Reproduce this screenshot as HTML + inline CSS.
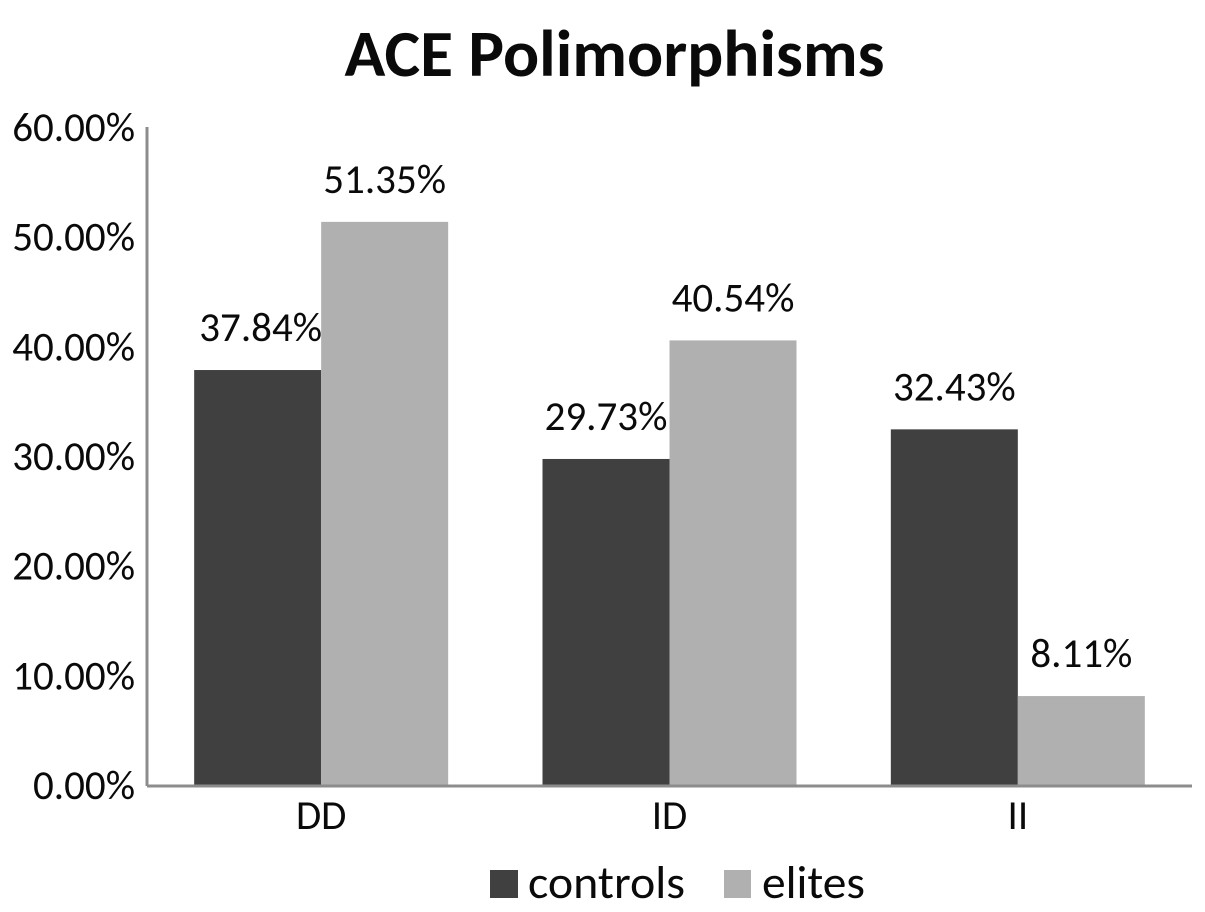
<!DOCTYPE html>
<html>
<head>
<meta charset="utf-8">
<style>
html,body{margin:0;padding:0;background:#fff;width:1205px;height:912px;overflow:hidden}
svg{display:block}
text{font-family:"Carlito","Liberation Sans",sans-serif;fill:#0a0a0a}
</style>
</head>
<body>
<svg id="chart" xmlns="http://www.w3.org/2000/svg" width="1205" height="912" viewBox="0 0 1205 912">
<text x="614.5" y="76" text-anchor="middle" font-size="66" font-weight="700" textLength="540" lengthAdjust="spacingAndGlyphs">ACE Polimorphisms</text>
<g id="plot"></g>
<g>
<rect x="490" y="870" width="28" height="28" fill="#404040"/>
<text x="528" y="898" font-size="46" textLength="157" lengthAdjust="spacingAndGlyphs">controls</text>
<rect x="724" y="870" width="27" height="28" fill="#b0b0b0"/>
<text x="762" y="898" font-size="46" textLength="103" lengthAdjust="spacingAndGlyphs">elites</text>
</g>
</svg>
<script>
const categories = ['DD', 'ID', 'II'];
const controls = [37.84, 29.73, 32.43];
const elites = [51.35, 40.54, 8.11];
const yTicks = [0, 10, 20, 30, 40, 50, 60];

const NS = 'http://www.w3.org/2000/svg';
const plot = document.getElementById('plot');
const left = 147, right = 1192, top0 = 127, bottom = 785;
const y = v => bottom - (v / 60) * (bottom - top0);
const groupW = (right - left) / categories.length;
const barW = 127;
const x = i => left + groupW * (i + 0.5);

function make(tag, attrs, text) {
  const el = document.createElementNS(NS, tag);
  for (const k in attrs) el.setAttribute(k, attrs[k]);
  if (text !== undefined) el.textContent = text;
  plot.appendChild(el);
  return el;
}

yTicks.forEach(t => {
  const label = make('text', {x: 135, y: y(t) + 14, 'text-anchor': 'end', 'font-size': 41}, t.toFixed(2) + '%');
  
  
});

categories.forEach((c, i) => {
  const cx = x(i);
  const nudge = i === 0 ? 3 : 0;
  const b1 = make('rect', {x: cx - barW, y: y(controls[i]), width: barW, height: bottom - y(controls[i]), fill: '#404040'});
  
  
  const b2 = make('rect', {x: cx, y: y(elites[i]), width: barW, height: bottom - y(elites[i]), fill: '#b0b0b0'});
  
  
  const l1 = make('text', {x: cx - barW / 2 + nudge, y: y(controls[i]) - 29, 'text-anchor': 'middle', 'font-size': 41}, controls[i].toFixed(2) + '%');
  
  
  const l2 = make('text', {x: cx + barW / 2, y: y(elites[i]) - 29, 'text-anchor': 'middle', 'font-size': 41}, elites[i].toFixed(2) + '%');
  
  
  const cat = make('text', {x: cx, y: 829, 'text-anchor': 'middle', 'font-size': 41}, c);
  
  
});

const yAxis = make('line', {x1: left, y1: top0, x2: left, y2: bottom + 1, stroke: '#8c8c8c', 'stroke-width': 3});


const xAxis = make('line', {x1: left, y1: bottom + 1, x2: right, y2: bottom + 1, stroke: '#8c8c8c', 'stroke-width': 3});


</script>
</body>
</html>
